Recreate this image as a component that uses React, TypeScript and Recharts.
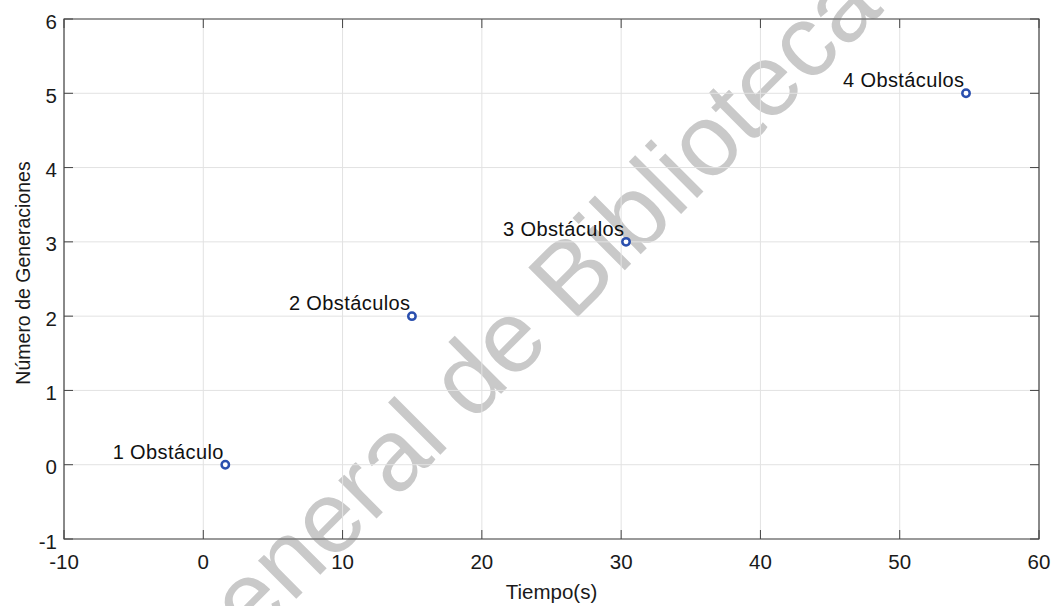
import {
  ScatterChart,
  Scatter,
  XAxis,
  YAxis,
  CartesianGrid,
  ReferenceArea,
  Label,
} from "recharts";

const tiempos = [1.58, 14.98, 30.35, 54.76];
const generaciones = [0, 2, 3, 5];
const etiquetas = ["1 Obstáculo", "2 Obstáculos", "3 Obstáculos", "4 Obstáculos"];
const xTicks = [-10, 0, 10, 20, 30, 40, 50, 60];
const yTicks = [-1, 0, 1, 2, 3, 4, 5, 6];

const data = tiempos.map((t, i) => ({ x: t, y: generaciones[i], label: etiquetas[i] }));

const W = 1060;
const H = 606;
const TOP = 19;
const BOTTOM = 539;
const LEFT = 64;
const RIGHT = 1039;
const TICK = 9;
const FONT = '"Liberation Sans", Arial, Helvetica, sans-serif';
const AXIS = "#444";
const MARK = "#2a4fae";

function XTick({ x, payload }: { x: number; payload: { value: number } }) {
  return (
    <g>
      <line x1={x} y1={BOTTOM} x2={x} y2={BOTTOM - TICK} stroke={AXIS} />
      <line x1={x} y1={TOP} x2={x} y2={TOP + TICK} stroke={AXIS} />
      <text x={x} y={569} textAnchor="middle" fontSize={20.5} fill="#1a1a1a" fontFamily={FONT}>
        {payload.value}
      </text>
    </g>
  );
}

function YTick({ y, payload }: { y: number; payload: { value: number } }) {
  return (
    <g>
      <line x1={LEFT} y1={y} x2={LEFT + TICK} y2={y} stroke={AXIS} />
      <line x1={RIGHT} y1={y} x2={RIGHT - TICK} y2={y} stroke={AXIS} />
      <text x={57} y={y + 9.5} textAnchor="end" fontSize={20.5} fill="#1a1a1a" fontFamily={FONT}>
        {payload.value}
      </text>
    </g>
  );
}

function Punto(props: any) {
  const { cx, cy, payload } = props;
  return (
    <g>
      <text
        x={cx - 1.5}
        y={cy - 6}
        textAnchor="end"
        fontSize={20}
        letterSpacing={0.4}
        fill="#111"
        fontFamily={FONT}
      >
        {payload.label}
      </text>
      <circle cx={cx} cy={cy} r={3.7} fill="#fff" stroke={MARK} strokeWidth={2.5} />
    </g>
  );
}

export default function App() {
  return (
    <div style={{ position: "absolute", left: 0, top: 0, width: W, height: H, background: "#fff", overflow: "hidden" }}>
      <svg width={W} height={H} style={{ position: "absolute", left: 0, top: 0 }}>
        <text
          x={195}
          y={700}
          transform="rotate(-45 195 700)"
          fontSize={102}
          fill="#c9c9c9"
          fontFamily={FONT}
        >
          General de Biblioteca
        </text>
      </svg>
      <div style={{ position: "absolute", left: 0, top: 0 }}>
        <ScatterChart width={W} height={H} margin={{ top: TOP, right: W - RIGHT, bottom: 0, left: 0 }}>
          <CartesianGrid stroke="#e2e2e2" strokeWidth={1} />
          <XAxis
            type="number"
            dataKey="x"
            domain={[-10, 60]}
            ticks={xTicks}
            height={H - BOTTOM}
            axisLine={false}
            tickLine={false}
            tick={XTick as any}
            interval={0}
          >
            <Label
              content={() => (
                <text x={(LEFT + RIGHT) / 2} y={599} textAnchor="middle" fontSize={20.5} fill="#1a1a1a" fontFamily={FONT}>
                  Tiempo(s)
                </text>
              )}
            />
          </XAxis>
          <YAxis
            type="number"
            dataKey="y"
            domain={[-1, 6]}
            ticks={yTicks}
            width={LEFT}
            axisLine={false}
            tickLine={false}
            tick={YTick as any}
            interval={0}
          >
            <Label
              content={() => (
                <text
                  x={30}
                  y={273}
                  transform="rotate(-90 30 273)"
                  textAnchor="middle"
                  fontSize={19.5}
                  fill="#1a1a1a"
                  fontFamily={FONT}
                >
                  Número de Generaciones
                </text>
              )}
            />
          </YAxis>
          <ReferenceArea x1={-10} x2={60} y1={-1} y2={6} fill="none" stroke={AXIS} strokeWidth={1.2} />
          <Scatter data={data} shape={Punto} isAnimationActive={false} />
        </ScatterChart>
      </div>
    </div>
  );
}
